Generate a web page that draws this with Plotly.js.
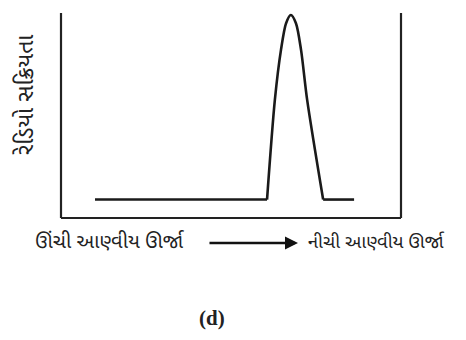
<!DOCTYPE html>
<html><head><meta charset="utf-8">
<script src="https://cdn.plot.ly/plotly-3.0.1.min.js"></script>
<style>html,body{margin:0;padding:0;background:#fff}#c{width:466px;height:340px}</style>
</head><body><div id="c"></div>
<script>
const baseLeftX = [10, 60.6];
const baseLeftY = [9, 9];
const peakX = [60.6, 62.9, 64.7, 66.2, 67.6, 69.1, 70.6, 72.4, 77.1];
const peakY = [9, 57.6, 82, 95, 99, 95, 82, 57.6, 9];
const baseRightX = [77.1, 86.2];
const baseRightY = [9, 9];
const yLabel = 'રેડિયો સક્રિયતા';
const leftLabel = 'ઊંચી આણ્વીય ઊર્જા';
const rightLabel = 'નીચી આણ્વીય ઊર્જા';
const panelLabel = '(d)';

const lineStyle = {color: '#1a1a1a', width: 2.6};
const traces = [
  {x: baseLeftX, y: baseLeftY, mode: 'lines', line: lineStyle, hoverinfo: 'skip'},
  {x: peakX, y: peakY, mode: 'lines', line: Object.assign({shape: 'spline', smoothing: 0.8}, lineStyle), hoverinfo: 'skip'},
  {x: baseRightX, y: baseRightY, mode: 'lines', line: lineStyle, hoverinfo: 'skip'}
];
const guj = 'Noto Sans Gujarati, Lohit Gujarati, Noto Sans, sans-serif';
const layout = {
  width: 466, height: 340,
  margin: {l: 61, r: 65, t: 13, b: 122},
  paper_bgcolor: '#fff', plot_bgcolor: '#fff',
  showlegend: false,
  xaxis: {range: [0, 100], showgrid: false, zeroline: false, showticklabels: false, ticks: '', showline: false, fixedrange: true},
  yaxis: {range: [0, 100], showgrid: false, zeroline: false, showticklabels: false, ticks: '', showline: false, fixedrange: true},
  shapes: [
    {type: 'line', xref: 'paper', yref: 'paper', x0: 0, x1: 0, y0: 0, y1: 1, line: {color: '#222', width: 2.2}},
    {type: 'line', xref: 'paper', yref: 'paper', x0: 1, x1: 1, y0: 0, y1: 1, line: {color: '#222', width: 2.2}},
    {type: 'line', xref: 'paper', yref: 'paper', x0: 0, x1: 1, y0: 0, y1: 0, line: {color: '#222', width: 2.2}}
  ],
  annotations: [
    {xref: 'paper', yref: 'paper', x: -0.1, y: 0.6, xanchor: 'center', yanchor: 'middle', text: yLabel, showarrow: false, textangle: -90,
     font: {family: guj, size: 23, color: '#222'}},
    {xref: 'paper', yref: 'paper', x: 0.144, y: -0.122, xanchor: 'center', yanchor: 'middle', text: leftLabel, showarrow: false,
     font: {family: guj, size: 20, color: '#222'}},
    {xref: 'paper', yref: 'paper', x: 0.929, y: -0.122, xanchor: 'center', yanchor: 'middle', text: rightLabel, showarrow: false,
     font: {family: guj, size: 18.5, color: '#222'}},
    {xref: 'paper', yref: 'paper', x: 0.697, y: -0.122, ax: -90, ay: 0, text: '', showarrow: true,
     arrowhead: 2, arrowsize: 1, arrowwidth: 2.6, arrowcolor: '#111'},
    {xref: 'paper', yref: 'paper', x: 0.444, y: -0.488, xanchor: 'center', yanchor: 'middle', text: '<b>' + panelLabel + '</b>', showarrow: false,
     font: {family: 'Liberation Serif, DejaVu Serif, serif', size: 21, color: '#222'}}
  ]
};
Plotly.newPlot('c', traces, layout, {staticPlot: true, displayModeBar: false});
</script></body></html>
